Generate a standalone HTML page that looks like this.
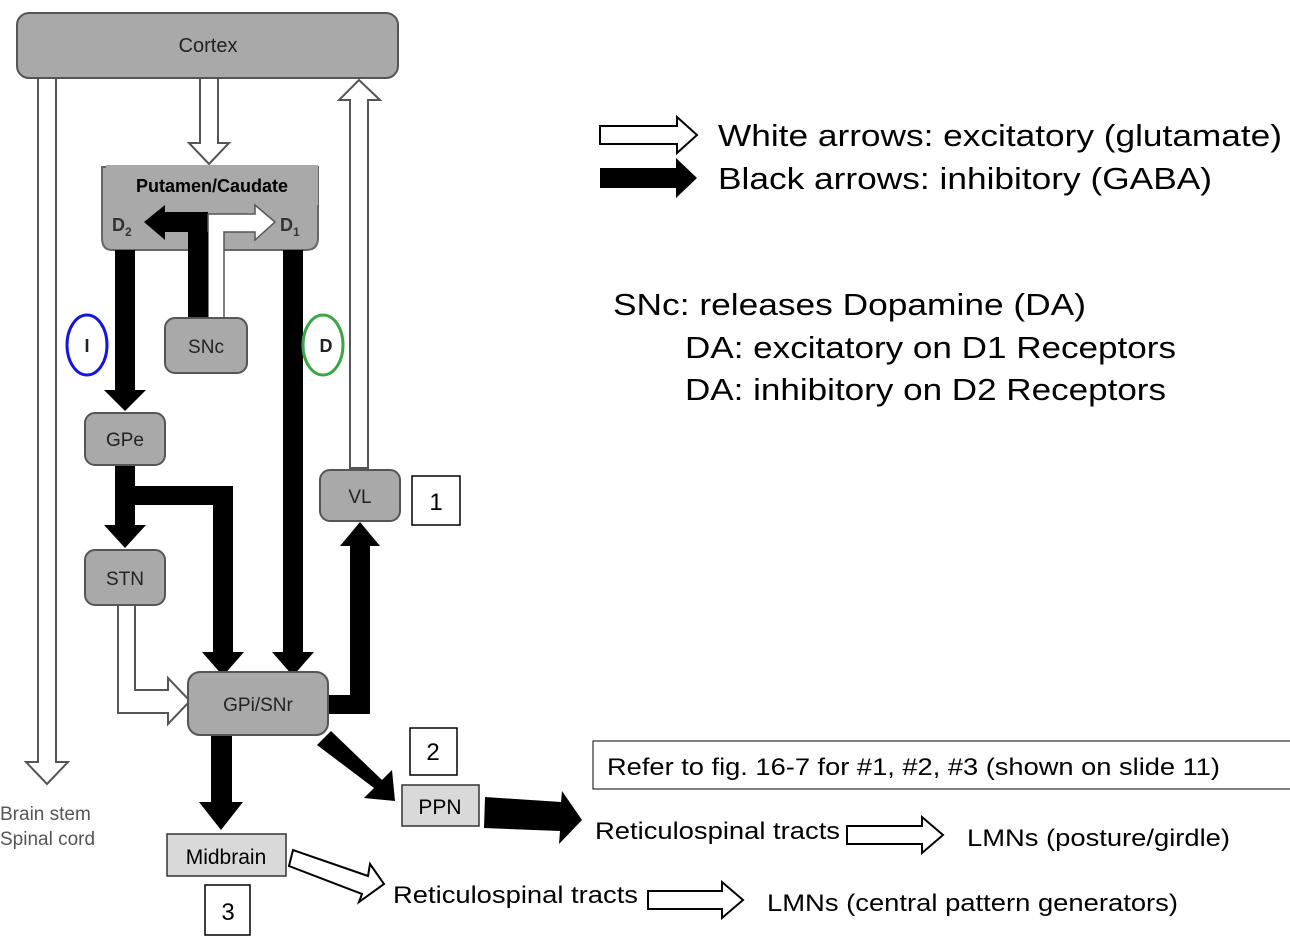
<!DOCTYPE html>
<html><head><meta charset="utf-8"><style>html,body{margin:0;padding:0;background:#fff}svg{display:block}</style></head>
<body>
<svg width="1290" height="942" viewBox="0 0 1290 942" xmlns="http://www.w3.org/2000/svg" font-family="Liberation Sans, Arial, sans-serif">
<rect width="1290" height="942" fill="#fff"/>
<g fill="#fff" stroke="#555" stroke-width="2">
<polygon points="38,78 56,78 56,762 68,762 47,784 26,762 38,762"/>
<polygon points="200,78 218,78 218,143 229,143 209,164 189,143 200,143"/>
<polygon points="350,468 368,468 368,100 380,100 359,80 339,100 350,100"/>
<polygon points="118,605 135,605 135,690 168,690 168,678 190,701 168,724 168,713 118,713"/>
</g>
<rect x="17" y="13" width="381" height="65" rx="12" fill="#a9a9a9" stroke="#555" stroke-width="2"/>
<text x="208" y="52" font-size="20" text-anchor="middle" fill="#222">Cortex</text>
<path d="M102,167 L318,167 L318,238 Q318,250 306,250 L112,250 Q102,250 102,238 Z" fill="#a9a9a9" stroke="#666" stroke-width="2"/>
<rect x="106" y="165" width="212" height="40" fill="#a9a9a9"/>
<text x="212" y="192" font-size="18" font-weight="bold" text-anchor="middle" fill="#000">Putamen/Caudate</text>
<text x="112" y="231" font-size="18" font-weight="bold" fill="#333">D<tspan font-size="12" dy="5">2</tspan></text>
<text x="280" y="231" font-size="18" font-weight="bold" fill="#333">D<tspan font-size="12" dy="5">1</tspan></text>
<polygon points="208,320 208,212 165,212 165,205 144,222 165,240 165,232 188,232 188,320" fill="#000"/>
<polygon points="208,320 208,214 255,214 255,205 275,222 255,240 255,232 224,232 224,320" fill="#fff" stroke="#555" stroke-width="1.5"/>
<polygon points="188,232 208,232 208,320 188,320" fill="#000"/>
<rect x="165" y="318" width="82" height="55" rx="10" fill="#a9a9a9" stroke="#555" stroke-width="2"/>
<text x="206" y="353" font-size="19" text-anchor="middle" fill="#222">SNc</text>
<g fill="#000">
<polygon points="115,250 135,250 135,390 146,390 125,411 104,390 115,390"/>
<polygon points="283,250 303,250 303,652 314,652 293,676 272,652 283,652"/>
<polygon points="115,465 135,465 135,525 146,525 125,548 104,525 115,525"/>
<polygon points="135,486 233,486 233,652 244,652 223,676 202,652 213,652 213,505 135,505"/>
<polygon points="328,695 350,695 350,546 340,546 360,522 380,546 370,546 370,714 328,714"/>
<polygon points="211,735 232,735 232,802 243,802 221,830 199,802 211,802"/>
<polygon points="317,745 331,731 382,780 392,770 395,801 364,798 374,788"/>
<polygon points="485,797 561,802 562,791 582,820 559,844 560,831 484,828"/>
</g>
<ellipse cx="87" cy="345" rx="20" ry="30" fill="none" stroke="#1515e0" stroke-width="3"/>
<text x="87" y="352" font-size="18" font-weight="bold" text-anchor="middle" fill="#222">I</text>
<ellipse cx="323" cy="345" rx="20" ry="30" fill="none" stroke="#3aa645" stroke-width="3"/>
<text x="326" y="352" font-size="18" font-weight="bold" text-anchor="middle" fill="#222">D</text>
<g fill="#a9a9a9" stroke="#555" stroke-width="2">
<rect x="85" y="413" width="80" height="52" rx="10"/>
<rect x="85" y="550" width="80" height="55" rx="10"/>
<rect x="188" y="672" width="140" height="63" rx="12"/>
<rect x="320" y="470" width="80" height="51" rx="10"/>
</g>
<g font-size="19" text-anchor="middle" fill="#222">
<text x="125" y="446">GPe</text>
<text x="125" y="585">STN</text>
<text x="258" y="711">GPi/SNr</text>
<text x="360" y="503">VL</text>
</g>
<text x="0" y="820" font-size="19" fill="#555">Brain stem</text>
<text x="0" y="845" font-size="19" fill="#555">Spinal cord</text>
<g fill="#fff" stroke="#000" stroke-width="1.5">
<rect x="412" y="476" width="48" height="49"/>
<rect x="410" y="728" width="47" height="47"/>
<rect x="205" y="885" width="45" height="50"/>
</g>
<g font-size="24" text-anchor="middle" fill="#000">
<text x="436" y="510">1</text>
<text x="433" y="760">2</text>
<text x="228" y="920">3</text>
</g>
<rect x="402" y="785" width="77" height="41" fill="#d9d9d9" stroke="#333" stroke-width="1.5"/>
<text x="440" y="814" font-size="21" text-anchor="middle">PPN</text>
<rect x="167" y="834" width="119" height="42" fill="#d9d9d9" stroke="#333" stroke-width="1.5"/>
<text x="226" y="864" font-size="21" text-anchor="middle">Midbrain</text>
<polygon points="293,850 289,866 362,894 359,902 384,884 370,864 368,876" fill="#fff" stroke="#000" stroke-width="2"/>
<g fill="#fff" stroke="#000" stroke-width="2">
<polygon points="600,126 677,126 677,117 697,135 677,153 677,144 600,144"/>
<polygon points="847,826 922,826 922,817 943,835 922,853 922,844 847,844"/>
<polygon points="648,891 722,891 722,882 743,900 722,918 722,909 648,909"/>
</g>
<polygon points="600,168 676,168 676,158 697,178 676,198 676,188 600,188" fill="#000"/>
<g font-size="31" fill="#000">
<text x="718" y="146" textLength="564" lengthAdjust="spacingAndGlyphs">White arrows: excitatory (glutamate)</text>
<text x="718" y="189" textLength="494" lengthAdjust="spacingAndGlyphs">Black arrows: inhibitory (GABA)</text>
<text x="613" y="315" textLength="473" lengthAdjust="spacingAndGlyphs">SNc: releases Dopamine (DA)</text>
<text x="685" y="358" textLength="491" lengthAdjust="spacingAndGlyphs">DA: excitatory on D1 Receptors</text>
<text x="685" y="400" textLength="481" lengthAdjust="spacingAndGlyphs">DA: inhibitory on D2 Receptors</text>
</g>
<rect x="593" y="741" width="700" height="48" fill="#fff" stroke="#000" stroke-width="1"/>
<g font-size="24" fill="#000">
<text x="607" y="775" textLength="613" lengthAdjust="spacingAndGlyphs">Refer to fig. 16-7 for #1, #2, #3 (shown on slide 11)</text>
<text x="595" y="839" textLength="245" lengthAdjust="spacingAndGlyphs">Reticulospinal tracts</text>
<text x="967" y="846" textLength="263" lengthAdjust="spacingAndGlyphs">LMNs (posture/girdle)</text>
<text x="393" y="903" textLength="245" lengthAdjust="spacingAndGlyphs">Reticulospinal tracts</text>
<text x="767" y="911" textLength="411" lengthAdjust="spacingAndGlyphs">LMNs (central pattern generators)</text>
</g>
</svg>
</body></html>
